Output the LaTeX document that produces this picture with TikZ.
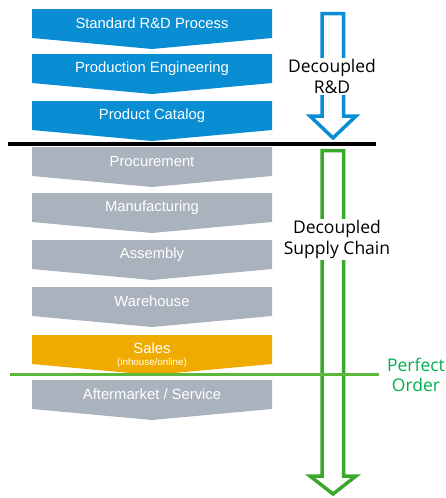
\documentclass[tikz,border=0pt]{standalone}
\usepackage{fontspec}
\setmainfont{Liberation Sans}
\newfontfamily\labelfont{Open Sans}
\definecolor{rdblue}{HTML}{0A8ED3}
\definecolor{scgrey}{HTML}{AAB2BD}
\definecolor{salesorange}{HTML}{F0AB00}
\definecolor{arrowgreen}{HTML}{3AA82A}
\definecolor{linegreen}{HTML}{5CB83A}
\definecolor{ordergreen}{HTML}{00B050}
\tikzset{
  boxtext/.style={text=white, font=\fontsize{14.8}{16}\selectfont, inner sep=0pt},
  sidelabel/.style={font=\labelfont\fontsize{17.5}{21}\selectfont, align=center, inner sep=1pt, fill=white},
  hollowarrow/.style={line width=3.5pt, fill=white, line join=miter},
}
\newcommand\chevron[4]{%
  \fill[#2] (32,#1) -- (272,#1) -- (272,#1+29) -- (152,#1+40) -- (32,#1+29) -- cycle;
  \node[boxtext] (#3) at (152,#1+14.5) {#4};
}
\begin{document}
\begin{tikzpicture}[x=1pt,y=-1pt]
\useasboundingbox[fill=white] (0,0) rectangle (445,498);
% R&D chevrons
\chevron{9}{rdblue}{std}{Standard R\&D Process}
\chevron{54}{rdblue}{prodeng}{Production Engineering}
\chevron{101}{rdblue}{catalog}{Product Catalog}
% supply chain chevrons
\chevron{147}{scgrey}{proc}{Procurement}
\chevron{193}{scgrey}{manu}{Manufacturing}
\chevron{240}{scgrey}{asm}{Assembly}
\chevron{287}{scgrey}{ware}{Warehouse}
\fill[salesorange] (32,335) -- (272,335) -- (272,364) -- (152,375) -- (32,364) -- cycle;
\node[boxtext] (sales) at (152,348) {Sales};
\node[text=white, font=\fontsize{9.8}{11}\selectfont, inner sep=0pt] (salessub) at (152,363) {(inhouse/online)};
\chevron{380}{scgrey}{after}{Aftermarket / Service}
% separator lines
\coordinate (bl) at (8,144);
\coordinate (br) at (376,144);
\draw[line width=4pt] (bl) -- (br);
% blue arrow
\draw[hollowarrow, draw=rdblue] (322,116) -- (322,13.5) -- (343.5,13.5) -- (343.5,116) -- (356,116) -- (333,138) -- (310,116) -- cycle;
\node[sidelabel] (rdlabel) at (332,76.5) {Decoupled\\R\&D};
% green arrow
\draw[hollowarrow, draw=arrowgreen] (322,476) -- (322,150.5) -- (343.5,150.5) -- (343.5,476) -- (356,476) -- (333,494) -- (310,476) -- cycle;
\node[sidelabel] (sclabel) at (337,239.5) {Decoupled\\Supply Chain};
% perfect order line
\coordinate (gl) at (10,374);
\coordinate (gr) at (379,374);
\draw[line width=3pt, linegreen] (gl) -- (gr);
\node[font=\labelfont\fontsize{17.5}{20}\selectfont, text=ordergreen, align=center, inner sep=0pt] (order) at (416,375) {Perfect\\Order};
\end{tikzpicture}
\end{document}
